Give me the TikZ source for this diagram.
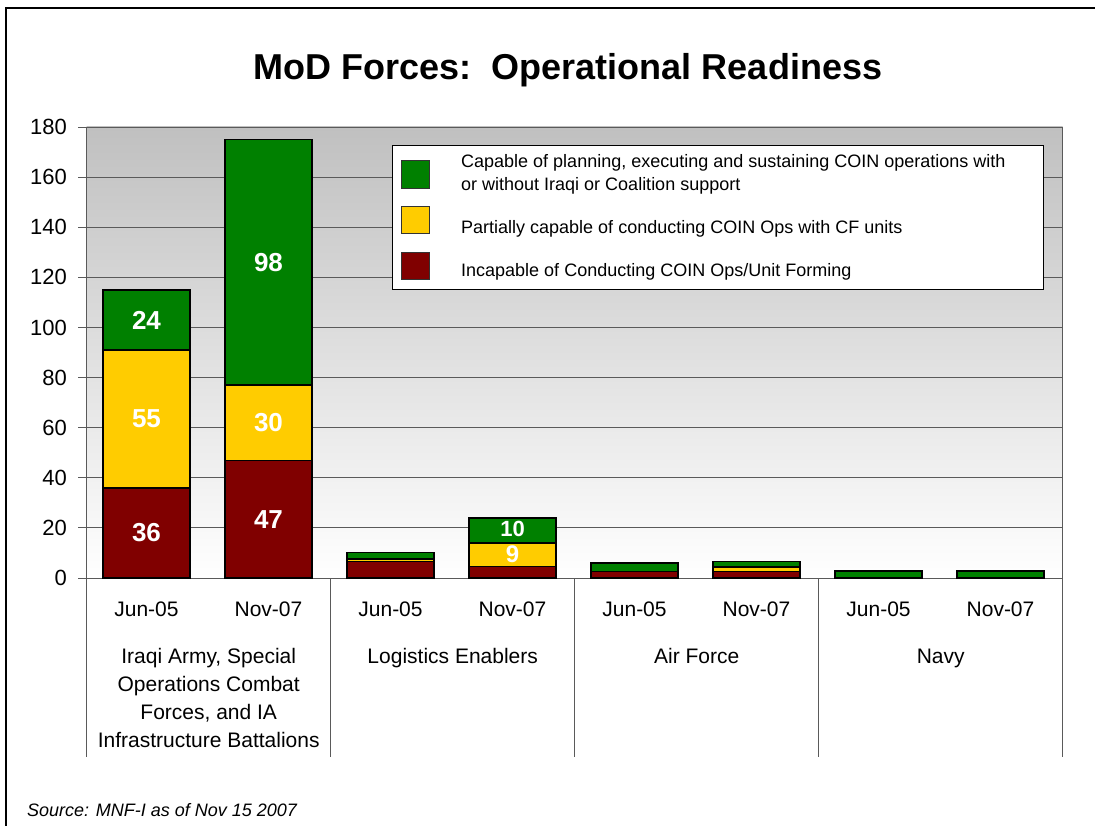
\documentclass[tikz,border=0pt]{standalone}
\usepackage{fontspec}
\setmainfont{Liberation Sans}
\definecolor{cg}{RGB}{0,128,0}
\definecolor{cy}{RGB}{255,204,0}
\definecolor{cr}{RGB}{128,0,0}
\definecolor{gridc}{RGB}{90,90,90}
\newcommand\Yv[1]{578-(#1)*2.50556}
\newcommand\seg[4]{\filldraw[barst,fill=#4] ({#1-43.5},{\Yv{#2}}) rectangle ({#1+43.5},{\Yv{#3}});}
\begin{document}
\begin{tikzpicture}[x=1pt,y=-1pt,
  barst/.style={draw=black,line width=1.4pt},
  gridl/.style={draw=gridc,line width=0.9pt},
  axlab/.style={font=\fontsize{21}{25}\selectfont,inner sep=0pt},
  vlab/.style={font=\fontsize{26}{30}\selectfont\bfseries,text=white,inner sep=0pt},
  leglab/.style={font=\fontsize{18}{23}\selectfont,anchor=west,inner sep=0pt,align=left},
  legsq/.style={draw=black!80,line width=0.6pt}]
\useasboundingbox (0,0) rectangle (1095,826);
\fill[white] (0,0) rectangle (1095,826);
\draw[line width=1.5pt] (6,826) -- (6,8) -- (1095,8);
% title
\node[font=\fontsize{36}{42}\selectfont\bfseries,anchor=base] (title) at (568,80) {MoD Forces:\ \ Operational Readiness};
% plot background
\shade[top color={rgb,255:red,192;green,192;blue,192},bottom color=white] (86.7,127) rectangle (1062.7,578);
\foreach \v in {20,40,...,180} {
  \draw[gridl] (86.7,{\Yv{\v}}) -- (1062.7,{\Yv{\v}});
}
\draw[gridl] (1062.7,127) -- (1062.7,757);
% y ticks and labels
\foreach \v in {0,20,...,180} {
  \draw[gridl] (78,{\Yv{\v}}) -- (86.7,{\Yv{\v}});
  \node[axlab,anchor=east,font=\fontsize{22}{26}\selectfont] (yl\v) at (67,{\Yv{\v}}) {\v};
}
% category dividers
\foreach \x in {86.7,330.7,574.7,818.7} {
  \draw[gridl] (\x,578) -- (\x,757);
}
\draw[gridl] (86.7,578) -- (1062.7,578);
\draw[gridl] (86.7,127) -- (86.7,578);
% bars
% Iraqi Army Jun-05
\seg{146.5}{0}{36}{cr}
\seg{146.5}{36}{91}{cy}
\seg{146.5}{91}{115}{cg}
\node[vlab] (b1r) at (146.5,{\Yv{18}}) {36};
\node[vlab] (b1y) at (146.5,{\Yv{63.5}}) {55};
\node[vlab] (b1g) at (146.5,{\Yv{103}}) {24};
% Iraqi Army Nov-07
\seg{268.5}{0}{47}{cr}
\seg{268.5}{47}{77}{cy}
\seg{268.5}{77}{175}{cg}
\node[vlab] (b2r) at (268.5,{\Yv{23.5}}) {47};
\node[vlab] (b2y) at (268.5,{\Yv{62}}) {30};
\node[vlab] (b2g) at (268.5,{\Yv{126}}) {98};
% Logistics Jun-05
\seg{390.5}{0}{6.6}{cr}
\seg{390.5}{6.6}{7.6}{cy}
\seg{390.5}{7.6}{10.2}{cg}
% Logistics Nov-07
\seg{512.5}{0}{4.6}{cr}
\seg{512.5}{4.6}{14}{cy}
\seg{512.5}{14}{24}{cg}
\node[vlab,font=\fontsize{24}{28}\selectfont\bfseries] (b4y) at (512.5,{\Yv{9.3}}) {9};
\node[vlab,font=\fontsize{22}{26}\selectfont\bfseries] (b4g) at (512.5,{\Yv{19.7}}) {10};
% Air Force Jun-05
\seg{634.5}{0}{2.5}{cr}
\seg{634.5}{2.5}{6}{cg}
% Air Force Nov-07
\seg{756.5}{0}{2.6}{cr}
\seg{756.5}{2.6}{4.4}{cy}
\seg{756.5}{4.4}{6.6}{cg}
% Navy
\seg{878.5}{0}{2.8}{cg}
\seg{1000.5}{0}{2.8}{cg}
% legend
\filldraw[draw=black,line width=0.9pt,fill=white] (392,145) rectangle (1043,289);
\filldraw[legsq,fill=cg] (401,160) rectangle (429,188);
\filldraw[legsq,fill=cy] (401,206) rectangle (429,233);
\filldraw[legsq,fill=cr] (401,252) rectangle (429,279);
\node[leglab] (lg) at (461,174) {Capable of planning, executing and sustaining COIN operations with\\or without Iraqi or Coalition support};
\node[leglab] (ly) at (461,229) {Partially capable of conducting COIN Ops with CF units};
\node[leglab] (lr) at (461,272) {Incapable of Conducting COIN Ops/Unit Forming};
% x labels
\foreach \x/\t [count=\i] in {146.5/Jun-05,268.5/Nov-07,390.5/Jun-05,512.5/Nov-07,634.5/Jun-05,756.5/Nov-07,878.5/Jun-05,1000.5/Nov-07} {
  \node[axlab,anchor=base] (xl\i) at (\x,616.5) {\t};
}
\node[axlab,anchor=base,align=center,font=\fontsize{21}{28}\selectfont] (g1) at (208.7,747.5) {Iraqi Army, Special\\Operations Combat\\Forces, and IA\\Infrastructure Battalions};
\node[axlab,anchor=base] (g2) at (452.7,663.5) {Logistics Enablers};
\node[axlab,anchor=base] (g3) at (696.7,663.5) {Air Force};
\node[axlab,anchor=base] (g4) at (940.7,663.5) {Navy};
% source
\node[font=\fontsize{18}{22}\selectfont\itshape,anchor=base west,inner sep=0pt] (src) at (27,816.5) {Source: MNF-I as of Nov 15 2007};
\end{tikzpicture}
\end{document}
